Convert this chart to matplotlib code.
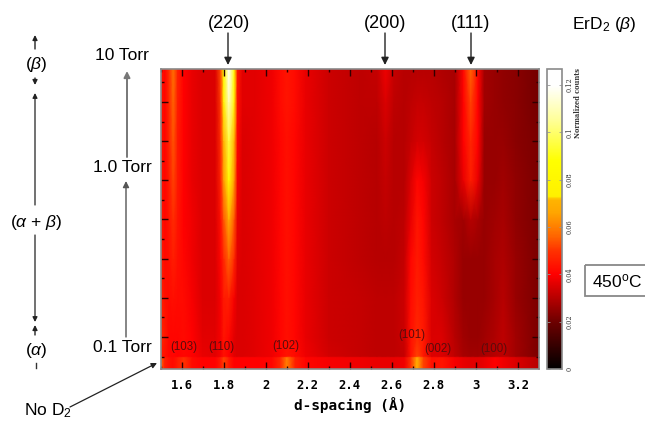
import matplotlib
matplotlib.use("Agg")
import numpy as np
from matplotlib import pyplot as plt
from matplotlib.colors import LinearSegmentedColormap

plt.rcParams['font.family'] = ['Liberation Sans', 'DejaVu Sans']
plt.rcParams['mathtext.fontset'] = 'custom'
plt.rcParams['mathtext.rm'] = 'Liberation Sans'
plt.rcParams['mathtext.it'] = 'Liberation Sans:italic'

# d-spacing positions of the columns
d_spacing = [1.50, 1.52, 1.54, 1.56, 1.58, 1.61, 1.65, 1.70, 1.76, 1.785, 1.80, 1.825, 1.85, 1.865,
             1.89, 1.95, 2.03, 2.07, 2.10, 2.14, 2.19, 2.30, 2.45, 2.53, 2.57, 2.61, 2.66, 2.69,
             2.72, 2.75, 2.79, 2.84, 2.90, 2.94, 2.975, 3.01, 3.04, 3.09, 3.13, 3.19, 3.30]

# normalized counts x 1000, one list per scan height
no_d2 = [56, 46, 43, 42, 45, 50, 42, 40, 40, 45, 52, 45, 40, 40, 40, 40, 41, 48, 60, 46, 41, 39, 38, 37, 37, 37, 38, 50, 70, 52, 43, 44, 39, 37, 36, 36, 37, 40, 38, 35, 30]
scan_a = [45, 43, 41, 41, 40, 41, 40, 37, 36, 39, 43, 40, 36, 35, 35, 36, 38, 41, 44, 42, 38, 34, 32, 31, 31, 31, 32, 43, 52, 45, 35, 35, 31, 28, 27, 27, 28, 30, 31, 27, 22]
scan_b = [48, 45, 41, 41, 41, 42, 40, 36, 36, 39, 44, 41, 36, 35, 35, 36, 38, 41, 43, 41, 37, 33, 32, 31, 31, 31, 33, 43, 48, 45, 35, 35, 30, 27, 26, 26, 27, 29, 31, 27, 22]
scan_c = [47, 43, 42, 43, 42, 42, 39, 35, 35, 39, 45, 46, 39, 35, 35, 36, 38, 41, 43, 41, 37, 33, 32, 31, 31, 31, 33, 42, 46, 44, 35, 33, 29, 26, 26, 26, 26, 28, 30, 26, 22]
scan_d = [46, 42, 43, 46, 43, 41, 38, 35, 35, 41, 48, 56, 48, 36, 35, 36, 38, 41, 43, 41, 37, 33, 31, 30, 30, 30, 32, 41, 45, 42, 34, 32, 29, 26, 26, 26, 26, 28, 29, 26, 22]
scan_e = [45, 41, 44, 49, 44, 40, 38, 35, 35, 43, 54, 70, 54, 37, 35, 36, 38, 41, 43, 41, 37, 33, 31, 30, 31, 30, 31, 37, 44, 41, 33, 31, 28, 27, 30, 28, 26, 27, 28, 25, 22]
scan_f = [44, 41, 45, 52, 45, 40, 37, 35, 35, 47, 64, 85, 64, 39, 35, 36, 38, 41, 43, 41, 37, 33, 31, 30, 32, 30, 30, 35, 41, 39, 33, 31, 28, 37, 46, 37, 26, 26, 27, 25, 22]
scan_g = [44, 41, 47, 54, 45, 40, 37, 35, 35, 49, 70, 95, 70, 41, 35, 36, 38, 41, 43, 41, 37, 33, 31, 30, 33, 30, 30, 32, 34, 34, 32, 30, 28, 40, 48, 40, 26, 26, 26, 24, 22]
scan_h = [44, 41, 48, 56, 46, 40, 37, 35, 35, 51, 74, 110, 74, 43, 36, 36, 38, 42, 44, 42, 37, 33, 31, 31, 35, 31, 30, 31, 32, 32, 31, 30, 28, 40, 52, 40, 27, 26, 25, 24, 21]
scan_i = [44, 41, 49, 58, 47, 40, 37, 35, 35, 53, 82, 122, 82, 45, 36, 36, 38, 42, 44, 42, 37, 33, 31, 32, 38, 32, 30, 30, 30, 30, 30, 29, 28, 41, 56, 41, 27, 26, 25, 24, 21]

scan_y = [-0.63, -0.03, 0.03, 1, 3, 5, 7, 9, 11, 13, 14.68]
scans = [no_d2, no_d2, scan_a, scan_b, scan_c, scan_d, scan_e, scan_f, scan_g, scan_h, scan_i]

xticks = [1.6, 1.8, 2, 2.2, 2.4, 2.6, 2.8, 3, 3.2]
xticklabels = ['1.6', '1.8', '2', '2.2', '2.4', '2.6', '2.8', '3', '3.2']
cbar_ticks = [0, 0.02, 0.04, 0.06, 0.08, 0.1, 0.12]
cbar_labels = ['0', '0.02', '0.04', '0.06', '0.08', '0.1', '0.12']

# colour scale
vmax = 0.1268
cmap_vals = [0, 0.02, 0.04, 0.05, 0.056, 0.066, 0.0715, 0.073, 0.088, 0.105, 0.12, vmax]
cmap_cols = ['#000000', '#6e0000', '#ff0000', '#ff3200', '#ff6400', '#ffa500', '#ffb400',
             '#fff000', '#ffff00', '#ffff96', '#ffffff', '#ffffff']
mapa = LinearSegmentedColormap.from_list('barra', [(v / vmax, c) for v, c in zip(cmap_vals, cmap_cols)], N=512)

W, H = 645, 421
fig = plt.figure(figsize=(W / 100, H / 100), dpi=100)


def caja(x0, y0, x1, y1):
    # pixel box of the picture to figure fractions
    return [x0 / W, 1 - y1 / H, (x1 - x0) / W, (y1 - y0) / H]


ax = fig.add_axes(caja(160.7, 69, 539, 369))
z = np.array(scans) / 1000
malla = ax.pcolormesh(d_spacing, scan_y, z, shading='gouraud', cmap=mapa, vmin=0, vmax=vmax)
ax.set_xlim(1.5, 3.3)
ax.set_ylim(-0.63, 14.68)
ax.set_xticks(xticks)
ax.set_xticklabels(xticklabels, family='DejaVu Sans Mono', weight='bold', fontsize=8.8)
ax.set_xticks(np.arange(1.5, 3.3, 0.2), minor=True)
ax.set_yticks(range(1, 15, 2))
ax.set_yticklabels([])
ax.set_yticks(range(0, 15, 2), minor=True)
ax.tick_params(which='major', direction='in', top=True, right=True, length=5, width=1, color='#300000', pad=7)
ax.tick_params(which='minor', direction='in', top=True, right=True, length=2.5, width=1, color='#300000')
for s in ax.spines.values():
    s.set_color('#8a8a8a')
    s.set_linewidth(1.2)

cax = fig.add_axes(caja(546.7, 69, 561.7, 369))
cb = fig.colorbar(malla, cax=cax)
cb.set_ticks(cbar_ticks)
cb.set_ticklabels(cbar_labels, rotation=90, va='center', family='DejaVu Serif', fontsize=4.8, color='#333333')
cb.ax.tick_params(direction='in', length=2, width=0.6, color='#999999', pad=3, left=True, right=True)
cb.outline.set_edgecolor('#8a8a8a')
cb.outline.set_linewidth(1.2)

# overlay in picture pixels for the hand-drawn annotations
over = fig.add_axes([0, 0, 1, 1])
over.set_xlim(0, W)
over.set_ylim(H, 0)
over.axis('off')
over.patch.set_alpha(0)


def flecha(x0, y0, x1, y1, color='#222222', lw=1.0, ms=8):
    over.annotate('', xy=(x1, y1), xytext=(x0, y0),
                  arrowprops=dict(arrowstyle='-|>', color=color, lw=lw, mutation_scale=ms,
                                  shrinkA=0, shrinkB=0))


def texto(x, y, s, size=13, **kw):
    over.text(x, y, s, ha=kw.pop('ha', 'center'), va='center', fontsize=size, color=kw.pop('color', '#000000'), **kw)


for x, s in [(229, '(220)'), (385, '(200)'), (471, '(111)')]:
    texto(x, 24, s)
for x in [228, 385, 471]:
    flecha(x, 33, x, 65, ms=11)

texto(604, 25, r'ErD$_2$ ($\beta$)', size=12.5)
texto(122, 56, '10 Torr', size=12.5)
texto(122, 167, '1.0 Torr', size=12.5)
texto(122, 347, '0.1 Torr', size=12.5)
flecha(127, 157, 127, 71, color='#777777', lw=1.4, ms=9)
flecha(126, 337, 126, 181, color='#555555', lw=1.0, ms=9)

texto(36, 65, r'($\beta$)', size=12.5)
flecha(35, 49, 35, 35, ms=7)
flecha(35, 78, 35, 85, ms=7)
flecha(35, 205, 35, 93, lw=0.9, ms=7)
flecha(35, 235, 35, 322, lw=0.9, ms=7)
flecha(35, 335, 35, 325, ms=7)
texto(36, 222, r'($\alpha$ + $\beta$)', size=12.5)
texto(36, 350, r'($\alpha$)', size=12.5)
over.plot([35.5, 35.5], [363, 368], color='#333333', lw=1)

texto(48, 411, r'No D$_2$', size=12.5)
flecha(70, 407, 157, 363, lw=0.9, ms=8)

for x, y, s in [(184, 347, '(103)'), (221, 347, '(110)'), (286, 346, '(102)'),
                (412, 335, '(101)'), (438, 349, '(002)'), (494, 349, '(100)')]:
    texto(x, y, s, size=8.3, color='#5a0c0c')

texto(350, 405, 'd-spacing (Å)', size=10.4, family='DejaVu Sans Mono', weight='bold')
over.text(577.5, 68, 'Normalized counts', rotation=90, ha='center', va='top', fontsize=4.8,
          family='DejaVu Serif', weight='bold', color='#333333')

over.add_patch(plt.Rectangle((585, 265), 62, 31, fill=False, ec='#888888', lw=1.3))
texto(617, 281, '450$^{\\mathrm{o}}$C', size=12.5)

fig.savefig('out.png', dpi=100)
